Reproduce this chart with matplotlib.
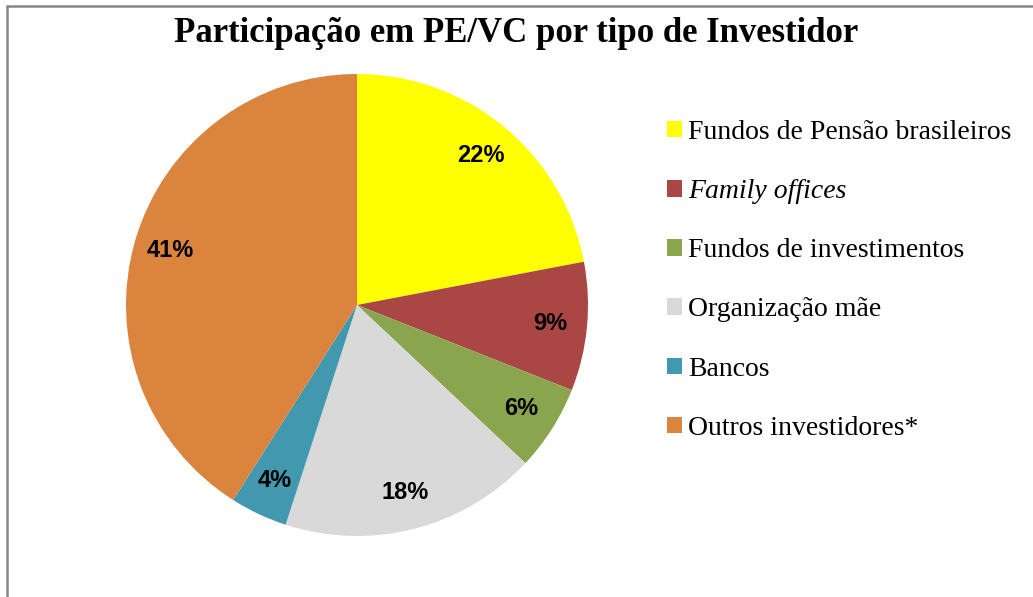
import matplotlib
matplotlib.use("Agg")
import matplotlib.pyplot as plt
from matplotlib.patches import Rectangle

categories = ["Fundos de Pensão brasileiros", "Family offices", "Fundos de investimentos",
              "Organização mãe", "Bancos", "Outros investidores*"]
values = [22, 9, 6, 18, 4, 41]
colors = ["#FFFF00", "#AA4643", "#89A54E", "#D9D9D9", "#4198AF", "#DB843D"]
title = "Participação em PE/VC por tipo de Investidor"

W, H = 1033, 597
fig = plt.figure(figsize=(W / 100, H / 100), dpi=100)

# pie axes: center (357,305) px, radius 231 px
cx, cy, r = 357, 305, 231
ax = fig.add_axes([(cx - r) / W, 1 - (cy + r) / H, 2 * r / W, 2 * r / H])
wedges, texts, autotexts = ax.pie(
    values, colors=colors, startangle=90, counterclock=False,
    autopct=lambda p: f"{p:.0f}%", pctdistance=0.84,
    wedgeprops=dict(linewidth=0),
    textprops=dict(fontfamily="Liberation Sans", fontweight="bold", fontsize=17, color="black"))
ax.set_aspect("equal")
ax.set_xlim(-1, 1)
ax.set_ylim(-1, 1)
ax.axis("off")

fig.text(0.5, 1 - 33 / H, title, ha="center", va="center",
         fontfamily="Liberation Serif", fontweight="bold", fontsize=25)

leg = fig.legend(wedges, categories, loc="upper left",
                 bbox_to_anchor=(642 / W, 1 - 95 / H),
                 frameon=False, handlelength=0.54, handleheight=0.54,
                 handletextpad=0.22, labelspacing=1.23,
                 prop=dict(family="Liberation Serif", size=20))
leg.get_texts()[1].set_fontstyle("italic")

# outer chart border (cropped at right and bottom)
fig.patches.append(Rectangle((7 / W, -0.1), 1.2, 1 - 6 / H + 0.1,
                             transform=fig.transFigure, fill=False,
                             edgecolor="#868686", linewidth=1.8))

fig.savefig("out.png", dpi=100)
